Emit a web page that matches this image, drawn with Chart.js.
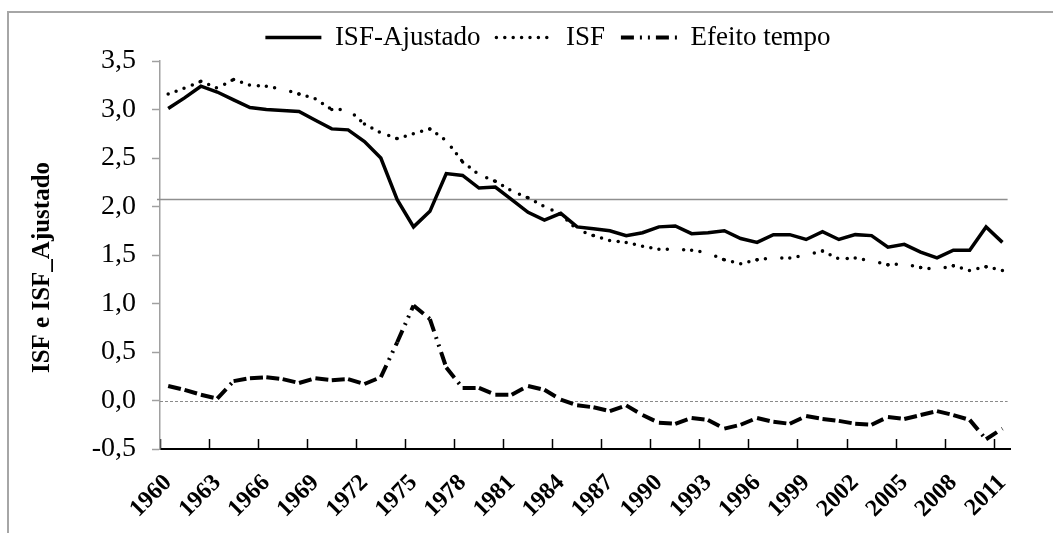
<!DOCTYPE html>
<html>
<head>
<meta charset="utf-8">
<script src="https://cdn.jsdelivr.net/npm/chart.js@4.4.0/dist/chart.umd.min.js"></script>
<style>
html,body{margin:0;padding:0;background:#fff;}
#wrap{position:relative;width:1053px;height:533px;overflow:hidden;}
#frame{position:absolute;left:7px;top:11px;width:1200px;height:700px;border-left:2px solid #a6a6a6;border-top:2px solid #a6a6a6;}
#c{position:absolute;left:0;top:0;z-index:2;}
</style>
</head>
<body>
<div id="wrap"><div id="frame"></div><canvas id="c" width="1053" height="533"></canvas></div>
<script>
const years = ['1960','1961','1962','1963','1964','1965','1966','1967','1968','1969',
  '1970','1971','1972','1973','1974','1975','1976','1977','1978','1979',
  '1980','1981','1982','1983','1984','1985','1986','1987','1988','1989',
  '1990','1991','1992','1993','1994','1995','1996','1997','1998','1999',
  '2000','2001','2002','2003','2004','2005','2006','2007','2008','2009',
  '2010','2011'];

const isfAjustado = [3.01,3.12,3.24,3.18,3.10,3.02,3.00,2.99,2.98,2.89,
  2.80,2.79,2.67,2.50,2.07,1.79,1.95,2.34,2.32,2.19,
  2.20,2.07,1.94,1.86,1.93,1.79,1.77,1.75,1.70,1.73,
  1.79,1.80,1.72,1.73,1.75,1.67,1.63,1.71,1.71,1.66,
  1.74,1.66,1.71,1.70,1.58,1.61,1.53,1.47,1.55,1.55,
  1.79,1.63];

const isf = [3.16,3.22,3.29,3.22,3.31,3.25,3.24,3.21,3.16,3.11,
  3.00,3.00,2.85,2.76,2.70,2.75,2.80,2.68,2.46,2.33,
  2.26,2.16,2.09,2.00,1.92,1.76,1.70,1.65,1.63,1.59,
  1.56,1.56,1.55,1.52,1.45,1.41,1.45,1.47,1.47,1.50,
  1.54,1.46,1.47,1.44,1.40,1.41,1.37,1.35,1.39,1.34,
  1.38,1.34];

const efeitoTempo = [0.15,0.11,0.06,0.02,0.20,0.23,0.24,0.22,0.18,0.23,
  0.21,0.22,0.17,0.24,0.60,0.98,0.84,0.34,0.13,0.13,
  0.06,0.06,0.15,0.11,0.01,-0.05,-0.07,-0.11,-0.05,-0.15,
  -0.23,-0.24,-0.18,-0.20,-0.29,-0.25,-0.18,-0.22,-0.24,-0.16,
  -0.19,-0.21,-0.24,-0.25,-0.17,-0.19,-0.15,-0.11,-0.15,-0.20,
  -0.40,-0.29];

const yMin = -0.5, yMax = 3.5, yStep = 0.5;
const labelEvery = 3;
const REPLACEMENT_LEVEL = 2.08;
const ZERO_LEVEL = 0;
const yTitle = 'ISF e ISF_Ajustado';

const serif = "'Liberation Serif', 'Times New Roman', serif";
Chart.defaults.color = '#000';
Chart.defaults.font.family = serif;

// restart dash pattern on every segment (like the original spreadsheet chart)
const restartDash = { borderDashOffset: ctx => (ctx.p0DataIndex % 2) * 0.001 };

const refLines = {
  id: 'refLines',
  beforeDatasetsDraw(chart) {
    const {ctx, chartArea, scales: {y}} = chart;
    ctx.save();
    let py = Math.round(y.getPixelForValue(REPLACEMENT_LEVEL)) + 0.5;
    ctx.strokeStyle = '#8f8f8f';
    ctx.lineWidth = 1.3;
    ctx.beginPath();
    ctx.moveTo(chartArea.left - 3, py);
    ctx.lineTo(chartArea.right - 3, py);
    ctx.stroke();
    py = Math.round(y.getPixelForValue(ZERO_LEVEL)) + 0.5;
    ctx.strokeStyle = '#8a8a8a';
    ctx.lineWidth = 1;
    ctx.setLineDash([3, 2]);
    ctx.beginPath();
    ctx.moveTo(chartArea.left, py);
    ctx.lineTo(chartArea.right - 3, py);
    ctx.stroke();
    ctx.restore();
  }
};

new Chart(document.getElementById('c'), {
  type: 'line',
  data: {
    labels: years,
    datasets: [
      {
        label: 'ISF-Ajustado',
        data: isfAjustado,
        borderColor: '#000',
        backgroundColor: '#000',
        borderWidth: 3.5,
        pointRadius: 0,
        pointHoverRadius: 0,
        pointStyle: 'line',
        tension: 0
      },
      {
        label: 'ISF',
        data: isf,
        borderColor: '#000',
        backgroundColor: '#000',
        borderWidth: 3.5,
        borderDash: [0, 8.4],
        borderCapStyle: 'round',
        pointRadius: 0,
        pointHoverRadius: 0,
        pointStyle: 'line',
        tension: 0,
        segment: restartDash
      },
      {
        label: 'Efeito tempo',
        data: efeitoTempo,
        borderColor: '#000',
        backgroundColor: '#000',
        borderWidth: 4,
        borderDash: [13, 6, 2, 6, 2, 6],
        borderCapStyle: 'butt',
        pointRadius: 0,
        pointHoverRadius: 0,
        pointStyle: 'line',
        tension: 0,
        segment: restartDash
      }
    ]
  },
  options: {
    responsive: false,
    animation: false,
    devicePixelRatio: 1,
    layout: { padding: { left: 65, right: 22, top: -5, bottom: 0 } },
    plugins: {
      legend: {
        display: true,
        position: 'top',
        labels: {
          usePointStyle: true,
          pointStyle: 'line',
          pointStyleWidth: 56,
          padding: 16,
          color: '#000',
          font: { family: serif, size: 27 },
          generateLabels: chart => {
            const items = Chart.defaults.plugins.legend.labels.generateLabels(chart);
            items.forEach(it => {
              const ds = chart.data.datasets[it.datasetIndex];
              it.lineDash = ds.borderDash || [];
              it.lineWidth = ds.borderWidth;
              it.lineCap = ds.borderCapStyle || 'butt';
              it.strokeStyle = ds.borderColor;
              it.pointStyle = 'line';
            });
            return items;
          }
        }
      },
      tooltip: { enabled: false }
    },
    scales: {
      x: {
        type: 'category',
        offset: true,
        grid: {
          offset: true,
          drawOnChartArea: false,
          drawTicks: true,
          tickLength: -10,
          tickWidth: 1.5,
          tickColor: ctx => (ctx.index % labelEvery === 0 ? '#000' : 'rgba(0,0,0,0)')
        },
        border: { display: true, color: '#000', width: 2 },
        ticks: {
          autoSkip: false,
          minRotation: 45,
          maxRotation: 45,
          padding: 30,
          color: '#000',
          font: { family: serif, size: 24, weight: 'bold' },
          callback: (v, i) => (i % labelEvery === 0 ? years[i] : '')
        },
        afterFit: s => { s.height = 84; }
      },
      y: {
        min: yMin,
        max: yMax,
        grid: {
          drawOnChartArea: false,
          drawTicks: true,
          tickLength: 8,
          tickWidth: 1.5,
          tickColor: '#a0a0a0'
        },
        border: { display: true, color: '#a0a0a0', width: 1.5 },
        ticks: {
          stepSize: yStep,
          padding: 16,
          color: '#000',
          font: { family: serif, size: 28 },
          callback: v => Number(v).toFixed(1).replace('.', ',')
        },
        title: {
          display: true,
          text: yTitle + '\u00A0\u00A0\u00A0\u00A0',
          color: '#000',
          font: { family: serif, size: 25, weight: 'bold' },
          padding: { top: -37, bottom: 0 }
        },
        afterFit: s => { s.width = 95; s.paddingTop = 61; }
      }
    }
  },
  plugins: [refLines]
});
</script>
</body>
</html>
